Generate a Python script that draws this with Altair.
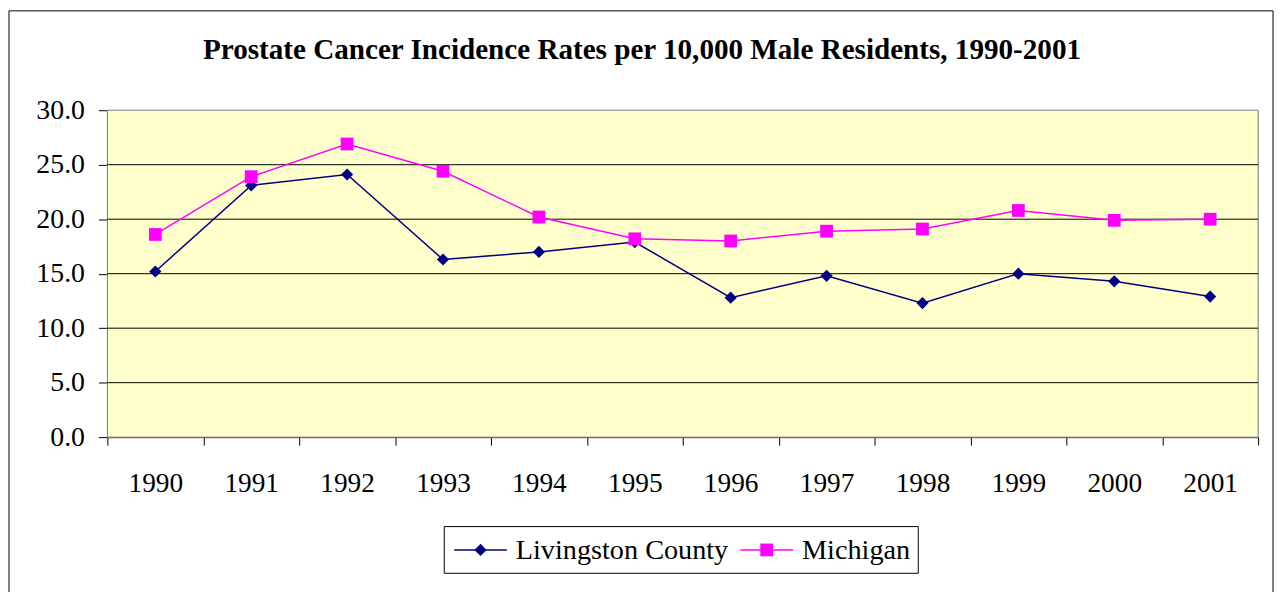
import altair as alt
import pandas as pd

years = ["1990", "1991", "1992", "1993", "1994", "1995", "1996", "1997", "1998", "1999", "2000", "2001"]
livingston = [15.2, 23.1, 24.1, 16.3, 17.0, 17.9, 12.8, 14.8, 12.3, 15.0, 14.3, 12.9]
michigan = [18.6, 23.9, 26.9, 24.4, 20.2, 18.2, 18.0, 18.9, 19.1, 20.8, 19.9, 20.0]
series_names = ["Livingston County", "Michigan"]
series_colors = ["#000080", "#FF00FF"]
series_shapes = ["diamond", "square"]
y_ticks = [0, 5, 10, 15, 20, 25, 30]
grid_values = [5, 10, 15, 20, 25]
title_text = "Prostate Cancer Incidence Rates per 10,000 Male Residents, 1990-2001"

rows = []
for i, yr in enumerate(years):
    rows.append({"year": yr, "series": series_names[0], "value": livingston[i]})
    rows.append({"year": yr, "series": series_names[1], "value": michigan[i]})
df = pd.DataFrame(rows)
grid_df = pd.DataFrame({"value": grid_values})

FONT = "Liberation Serif"
W, H = 1158, 329

x_enc = alt.X(
    "year:O",
    sort=years,
    scale=alt.Scale(paddingInner=0, paddingOuter=0),
    axis=alt.Axis(
        title=None, labelAngle=0, tickBand="extent", ticks=True, tickSize=8,
        tickColor="#000000", domainColor="#000000", labelFont=FONT, labelFontSize=27.5,
        labelColor="#000000", labelPadding=25, grid=False,
    ),
)
y_scale = alt.Scale(domain=[0, 30], nice=False, zero=True)
y_enc = alt.Y(
    "value:Q",
    scale=y_scale,
    axis=alt.Axis(
        title=None, values=y_ticks, format=".1f", tickSize=9, tickColor="#000000",
        domainColor="#000000", labelFont=FONT, labelFontSize=28, labelColor="#000000",
        labelPadding=14, grid=False,
    ),
)

meta = pd.DataFrame({"title": [title_text]})

# plot-area background and outer chart frame
plot_bg = alt.Chart(meta).mark_rect(fill="#FFFFCC", stroke="#808080", strokeWidth=1).encode(
    x=alt.value(0), x2=alt.value(W), y=alt.value(0), y2=alt.value(H)
)
frame = alt.Chart(meta).mark_rect(fill="transparent", stroke="#000000", strokeWidth=1).encode(
    x=alt.value(-99), x2=alt.value(1173), y=alt.value(-100), y2=alt.value(620)
)
title = alt.Chart(meta).mark_text(
    font=FONT, fontSize=29.3, fontWeight="bold", color="#000000", align="center", baseline="middle"
).encode(text="title:N", x=alt.value(538), y=alt.value(-61))

grid = alt.Chart(grid_df).mark_rule(color="#000000", strokeWidth=1).encode(y=y_enc)

color_scale = alt.Scale(domain=series_names, range=series_colors)
lines = alt.Chart(df).mark_line(strokeWidth=1.5).encode(
    x=x_enc, y=y_enc,
    color=alt.Color("series:N", scale=color_scale, legend=None),
)

point_layers = []
for name, col, shp, sz in zip(series_names, series_colors, series_shapes, [150, 165]):
    point_layers.append(
        alt.Chart(df).transform_filter(alt.datum.series == name).mark_point(
            filled=True, opacity=1, shape=shp, size=sz, color=col
        ).encode(x=x_enc, y=y_enc)
    )

# legend (box, line+marker samples, labels)
legend_df = pd.DataFrame({"series": series_names})
legend_layers = [
    alt.Chart(meta).mark_rect(fill="#FFFFFF", stroke="#000000", strokeWidth=1).encode(
        x=alt.value(339), x2=alt.value(816), y=alt.value(419), y2=alt.value(466)
    )
]
entry_x = [349, 637]
for i, name in enumerate(series_names):
    x0 = entry_x[i]
    one = legend_df[legend_df.series == name]
    legend_layers.append(
        alt.Chart(one).mark_rule(color=series_colors[i], strokeWidth=1.5).encode(
            x=alt.value(x0), x2=alt.value(x0 + 53), y=alt.value(442.5)
        )
    )
    legend_layers.append(
        alt.Chart(one).mark_point(
            filled=True, opacity=1, shape=series_shapes[i], size=[150, 165][i], color=series_colors[i]
        ).encode(x=alt.value(x0 + 26.5), y=alt.value(442.5))
    )
    legend_layers.append(
        alt.Chart(one).mark_text(
            font=FONT, fontSize=28.4, color="#000000", align="left", baseline="middle"
        ).encode(text="series:N", x=alt.value(x0 + 62), y=alt.value(442.5))
    )

chart = alt.layer(frame, plot_bg, title, grid, lines, *point_layers, *legend_layers).properties(
    width=W, height=H,
    autosize=alt.AutoSizeParams(type="none"),
    padding={"left": 100, "top": 101, "right": 17, "bottom": 160},
).configure_view(
    fill="#FFFFCC", stroke="#808080", strokeWidth=1
).configure(background="#FFFFFF")

chart.save("out.html", embed_options={"renderer": "svg", "actions": False})
